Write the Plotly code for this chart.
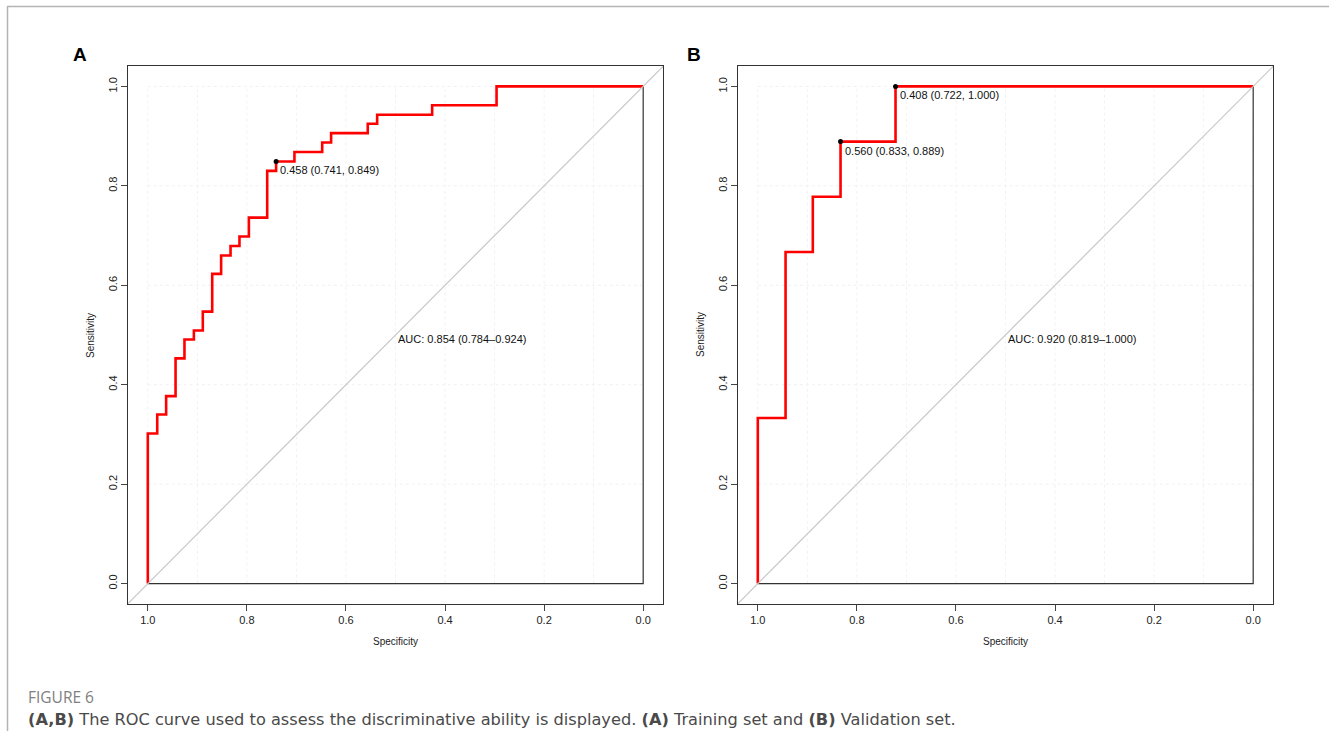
import plotly.graph_objects as go

# ---- data ----
train_spec = [1.0, 1.0, 0.981, 0.963, 0.944, 0.926, 0.907, 0.889, 0.870, 0.852, 0.833,
              0.815, 0.796, 0.759, 0.741, 0.704, 0.648, 0.630, 0.556, 0.537, 0.426, 0.296, 0.0]
train_sens = [0.0, 0.302, 0.340, 0.377, 0.453, 0.491, 0.509, 0.547, 0.623, 0.660, 0.679,
              0.698, 0.736, 0.830, 0.849, 0.868, 0.887, 0.906, 0.925, 0.943, 0.962, 1.0, 1.0]
valid_spec = [1.0, 1.0, 0.944, 0.889, 0.833, 0.722, 0.0]
valid_sens = [0.0, 0.333, 0.667, 0.778, 0.889, 1.0, 1.0]

train_thr_spec = [0.741]
train_thr_sens = [0.849]
train_thr_text = ["0.458 (0.741, 0.849)"]
valid_thr_spec = [0.833, 0.722]
valid_thr_sens = [0.889, 1.000]
valid_thr_text = ["0.560 (0.833, 0.889)", "0.408 (0.722, 1.000)"]

train_auc = "AUC: 0.854 (0.784\u20130.924)"
valid_auc = "AUC: 0.920 (0.819\u20131.000)"

tick_vals = [0.0, 0.2, 0.4, 0.6, 0.8, 1.0]
tick_text = ["0.0", "0.2", "0.4", "0.6", "0.8", "1.0"]
grid_x = [0.0, 0.1, 0.2, 0.3, 0.4, 0.5, 0.6, 0.7, 0.8, 0.9, 1.0]
grid_y = [0.0, 0.2, 0.4, 0.6, 0.8, 1.0]

W, H = 1329, 731
FONT = "Arial, Liberation Sans, sans-serif"


def px_x(p):
    return p / W


def px_y(p):
    return 1 - p / H


fig = go.Figure()

panels = [
    dict(xa="x", ya="y", spec=train_spec, sens=train_sens, tspec=train_thr_spec,
         tsens=train_thr_sens, ttext=train_thr_text, auc=train_auc,
         frame=(128, 663), letter="A", letter_x=80, ylab_x=91),
    dict(xa="x2", ya="y2", spec=valid_spec, sens=valid_sens, tspec=valid_thr_spec,
         tsens=valid_thr_sens, ttext=valid_thr_text, auc=valid_auc,
         frame=(738, 1273), letter="B", letter_x=694, ylab_x=701),
]

shapes = []
annotations = []

for p in panels:
    xa, ya = p["xa"], p["ya"]
    # very faint dotted grid
    for g in grid_x:
        shapes.append(dict(type="line", xref=xa, yref=ya, x0=g, x1=g, y0=0, y1=1,
                           line=dict(color="#f1f1f1", width=1, dash="dot"), layer="below"))
    for g in grid_y:
        shapes.append(dict(type="line", xref=xa, yref=ya, x0=1, x1=0, y0=g, y1=g,
                           line=dict(color="#f1f1f1", width=1, dash="dot"), layer="below"))
    # diagonal reference line
    shapes.append(dict(type="line", xref=xa, yref=ya, x0=1.04, y0=-0.04, x1=-0.04, y1=1.04,
                       line=dict(color="#c8c8c8", width=1.2)))
    # black baseline and right edge
    fig.add_trace(go.Scatter(x=[1.0, 0.0, 0.0], y=[0.0, 0.0, 1.0], mode="lines",
                             line=dict(color="#333333", width=1.2), xaxis=xa, yaxis=ya,
                             showlegend=False, hoverinfo="skip"))
    # ROC curve
    fig.add_trace(go.Scatter(x=p["spec"], y=p["sens"], mode="lines", line_shape="hv",
                             line=dict(color="#ff0000", width=2.6), xaxis=xa, yaxis=ya,
                             showlegend=False))
    # threshold points
    fig.add_trace(go.Scatter(x=p["tspec"], y=p["tsens"], mode="markers",
                             marker=dict(color="black", size=5), xaxis=xa, yaxis=ya,
                             showlegend=False))
    for sx, sy, t in zip(p["tspec"], p["tsens"], p["ttext"]):
        annotations.append(dict(xref=xa, yref=ya, x=sx, y=sy, text=t, showarrow=False,
                                xanchor="left", yanchor="top", xshift=2, yshift=-1,
                                font=dict(family=FONT, size=11, color="#111")))
    annotations.append(dict(xref=xa, yref=ya, x=0.5, y=0.491, text=p["auc"], showarrow=False,
                            xanchor="left", yanchor="middle",
                            font=dict(family=FONT, size=11, color="#111")))
    # panel letter
    annotations.append(dict(xref="paper", yref="paper", x=px_x(p["letter_x"]), y=px_y(54),
                            text="<b>%s</b>" % p["letter"], showarrow=False,
                            xanchor="center", yanchor="middle",
                            font=dict(family=FONT, size=19, color="black")))
    # axis titles
    annotations.append(dict(xref="paper", yref="paper", x=px_x(p["ylab_x"]), y=px_y(335),
                            text="Sensitivity", showarrow=False, textangle=-90,
                            xanchor="center", yanchor="middle",
                            font=dict(family=FONT, size=10, color="#222")))
    mid = (p["frame"][0] + p["frame"][1]) / 2
    annotations.append(dict(xref="paper", yref="paper", x=px_x(mid), y=px_y(641),
                            text="Specificity", showarrow=False,
                            xanchor="center", yanchor="middle",
                            font=dict(family=FONT, size=10, color="#222")))

# caption
annotations.append(dict(xref="paper", yref="paper", x=px_x(27), y=px_y(697),
                        text="FIGURE 6", showarrow=False, xanchor="left", yanchor="middle",
                        borderpad=0,
                        font=dict(family="Open Sans, sans-serif", size=15.5, color="#808080")))
annotations.append(dict(xref="paper", yref="paper", x=px_x(27), y=px_y(719),
                        text="<b>(A,B)</b> The ROC curve used to assess the discriminative ability is displayed. "
                             "<b>(A)</b> Training set and <b>(B)</b> Validation set.",
                        showarrow=False, xanchor="left", yanchor="middle", borderpad=0,
                        font=dict(family="DejaVu Sans, sans-serif", size=16.2, color="#4a4a4a")))

# page border lines
shapes.append(dict(type="line", xref="paper", yref="paper", x0=px_x(7), x1=1.0,
                   y0=px_y(6.5), y1=px_y(6.5), line=dict(color="#b4b4b4", width=1.5)))
shapes.append(dict(type="line", xref="paper", yref="paper", x0=px_x(7.5), x1=px_x(7.5),
                   y0=px_y(6.5), y1=0.0, line=dict(color="#b4b4b4", width=1.5)))

ydom = [px_y(604), px_y(66)]
axis_common = dict(showgrid=False, zeroline=False, showline=True, mirror=True,
                   linecolor="#333333", linewidth=1, ticks="outside", ticklen=6,
                   tickcolor="#444", tickwidth=1, tickvals=tick_vals, ticktext=tick_text,
                   tickfont=dict(family=FONT, size=11, color="#222"))

fig.update_layout(
    width=W, height=H, margin=dict(l=0, r=0, t=0, b=0),
    paper_bgcolor="white", plot_bgcolor="white",
    showlegend=False,
    xaxis=dict(domain=[px_x(128), px_x(663)], range=[1.04, -0.04], anchor="y", **axis_common),
    yaxis=dict(domain=ydom, range=[-0.041, 1.041], anchor="x", tickangle=-90, **axis_common),
    xaxis2=dict(domain=[px_x(738), px_x(1273)], range=[1.04, -0.04], anchor="y2", **axis_common),
    yaxis2=dict(domain=ydom, range=[-0.041, 1.041], anchor="x2", tickangle=-90, **axis_common),
    shapes=shapes, annotations=annotations,
)

fig.write_html("out.html")
